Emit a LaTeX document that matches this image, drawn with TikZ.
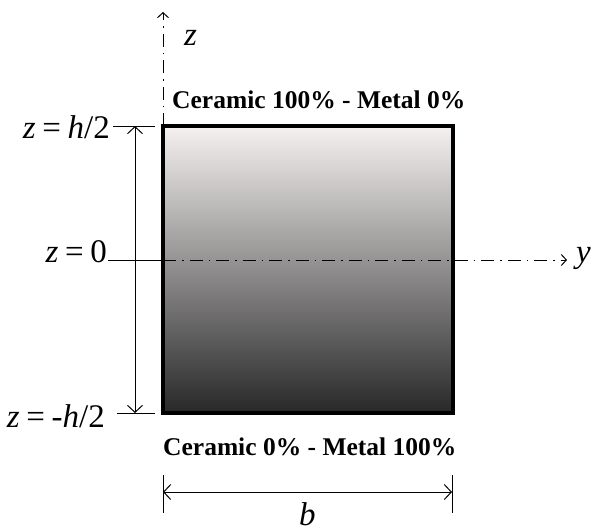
\documentclass[tikz,border=0pt]{standalone}
\usepackage{fontspec}
\setmainfont{Liberation Serif}
\usetikzlibrary{arrows.meta}
\newcommand{\eqsp}{\hspace{0.2em}}
\begin{document}
\begin{tikzpicture}[x=1pt,y=-1pt,
  axisline/.style={line width=1pt, dash pattern=on 13pt off 6pt on 1.5pt off 6pt},
  dimline/.style={line width=1pt},
  bigchev/.tip={Straight Barb[length=7pt,width=15pt,line width=1pt]},
  smallchev/.tip={Straight Barb[length=5pt,width=11pt,line width=1pt]},
  mathlbl/.style={font=\fontsize{33}{33}\selectfont, inner sep=0pt},
  boldlbl/.style={font=\fontsize{25.5}{25.5}\selectfont\bfseries, inner sep=0pt}]
\useasboundingbox (0,0) rectangle (593,531);
% beam cross-section
\node[draw, line width=3.2pt, minimum width=290pt, minimum height=287pt, inner sep=0pt, outer sep=0pt,
  top color={rgb,255:red,245;green,241;blue,241},
  middle color={rgb,255:red,112;green,110;blue,110},
  bottom color={rgb,255:red,40;green,40;blue,40}] (beam) at (308,269.5) {};
% coordinates
\coordinate (zbase) at (163,126);
\coordinate (ztip) at (163,12);
\coordinate (y0) at (108,260);
\coordinate (yo) at (163,260);
\coordinate (ytip) at (567,260);
\coordinate (ht1) at (113,126);
\coordinate (ht2) at (155,126);
\coordinate (hb1) at (117,413);
\coordinate (hb2) at (155,413);
\coordinate (ha) at (135,126);
\coordinate (hbt) at (135,413);
\coordinate (bl1) at (163,475);
\coordinate (bl2) at (163,513);
\coordinate (br1) at (452,475);
\coordinate (br2) at (452,513);
\coordinate (bla) at (163,492);
\coordinate (bra) at (452,492);
% axes
\draw[axisline, -{smallchev}] (zbase) -- (ztip);
\draw[dimline] (y0) -- (yo);
\draw[axisline, -{smallchev}] (yo) -- (ytip);
% h dimension
\draw[dimline] (ht1) -- (ht2);
\draw[dimline] (hb1) -- (hb2);
\draw[dimline, {bigchev}-{bigchev}] (ha) -- (hbt);
% b dimension
\draw[dimline] (bl1) -- (bl2);
\draw[dimline] (br1) -- (br2);
\draw[dimline, {bigchev}-{bigchev}] (bla) -- (bra);
% labels
\node[mathlbl, anchor=base west] (zlbl) at (184,45) {\textit{z}};
\node[mathlbl, anchor=base west] (ylbl) at (576,262) {\textit{y}};
\node[mathlbl, anchor=base west] (blbl) at (299,525) {\textit{b}};
\node[mathlbl, anchor=base east] (zh) at (110,138) {\textit{z}\eqsp=\eqsp\textit{h}/2};
\node[mathlbl, anchor=base east] (z0) at (107,262) {\textit{z}\eqsp=\eqsp0};
\node[mathlbl, anchor=base east] (zmh) at (105,427) {\textit{z}\eqsp=\eqsp-\textit{h}/2};
\node[boldlbl, anchor=base west] (toptxt) at (172,108) {Ceramic 100\% - Metal 0\%};
\node[boldlbl, anchor=base west] (bottxt) at (163,455) {Ceramic 0\% - Metal 100\%};
\end{tikzpicture}
\end{document}
